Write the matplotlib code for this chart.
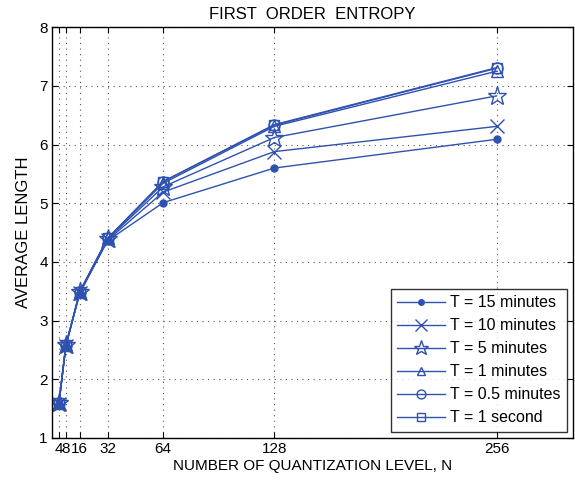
import matplotlib
matplotlib.use("Agg")
import matplotlib.pyplot as plt

plt.rcParams['font.family'] = ['Liberation Sans', 'DejaVu Sans']

levels = [4, 8, 16, 32, 64, 128, 256]
t15min = [1.58, 2.57, 3.47, 4.36, 5.01, 5.60, 6.09]
t10min = [1.58, 2.57, 3.47, 4.37, 5.19, 5.88, 6.31]
t5min = [1.60, 2.58, 3.49, 4.39, 5.28, 6.12, 6.83]
t1min = [1.60, 2.58, 3.49, 4.40, 5.34, 6.31, 7.25]
t05min = [1.60, 2.58, 3.49, 4.40, 5.37, 6.33, 7.30]
t1sec = [1.60, 2.58, 3.49, 4.40, 5.37, 6.34, 7.31]
labels = ['T = 15 minutes', 'T = 10 minutes', 'T = 5 minutes',
          'T = 1 minutes', 'T = 0.5 minutes', 'T = 1 second']
yticks = [1, 2, 3, 4, 5, 6, 7, 8]

color = '#2f52b0'
fig = plt.figure(figsize=(5.75, 4.86), dpi=100)
ax = fig.add_axes([0.0904, 0.0988, 0.9061, 0.8452])

series = [t15min, t10min, t5min, t1min, t05min, t1sec]
styles = [
    dict(marker='o', markersize=5, markerfacecolor=color),
    dict(marker='x', markersize=10, markerfacecolor='none', markeredgewidth=1),
    dict(marker='*', markersize=14, markerfacecolor='none', markeredgewidth=1),
    dict(marker='^', markersize=8, markerfacecolor='none', markeredgewidth=1),
    dict(marker='o', markersize=8, markerfacecolor='none', markeredgewidth=1),
    dict(marker='s', markersize=7, markerfacecolor='none', markeredgewidth=1),
]
for vals, lab, st in zip(series, labels, styles):
    ax.plot(levels, vals, color=color, linewidth=1, label=lab,
            markeredgecolor=color, **st)

ax.set_xlim(0, 300)
ax.set_ylim(1, 8)
ax.set_xticks(levels)
ax.set_xticklabels([str(v) for v in levels])
ax.set_yticks(yticks)
ax.grid(True, linestyle=(0, (1, 4)), color='#555555', linewidth=0.8)
ax.tick_params(direction='in', top=True, right=True, labelsize=11, length=4, pad=3)
for s in ax.spines.values():
    s.set_linewidth(1)
    s.set_color('black')

ax.set_title('FIRST  ORDER  ENTROPY', fontsize=12, pad=6)
ax.set_xlabel('NUMBER OF QUANTIZATION LEVEL, N', fontsize=11, labelpad=2)
ax.set_ylabel('AVERAGE LENGTH', fontsize=12, labelpad=6)

leg = ax.legend(loc='lower right', fontsize=11.5, frameon=True, fancybox=False,
                edgecolor='black', borderaxespad=0.4, handlelength=3,
                labelspacing=0.5, borderpad=0.4, handletextpad=0.3,
                markerscale=0.8)
leg.get_frame().set_linewidth(1)

fig.savefig('out.png', dpi=100)
